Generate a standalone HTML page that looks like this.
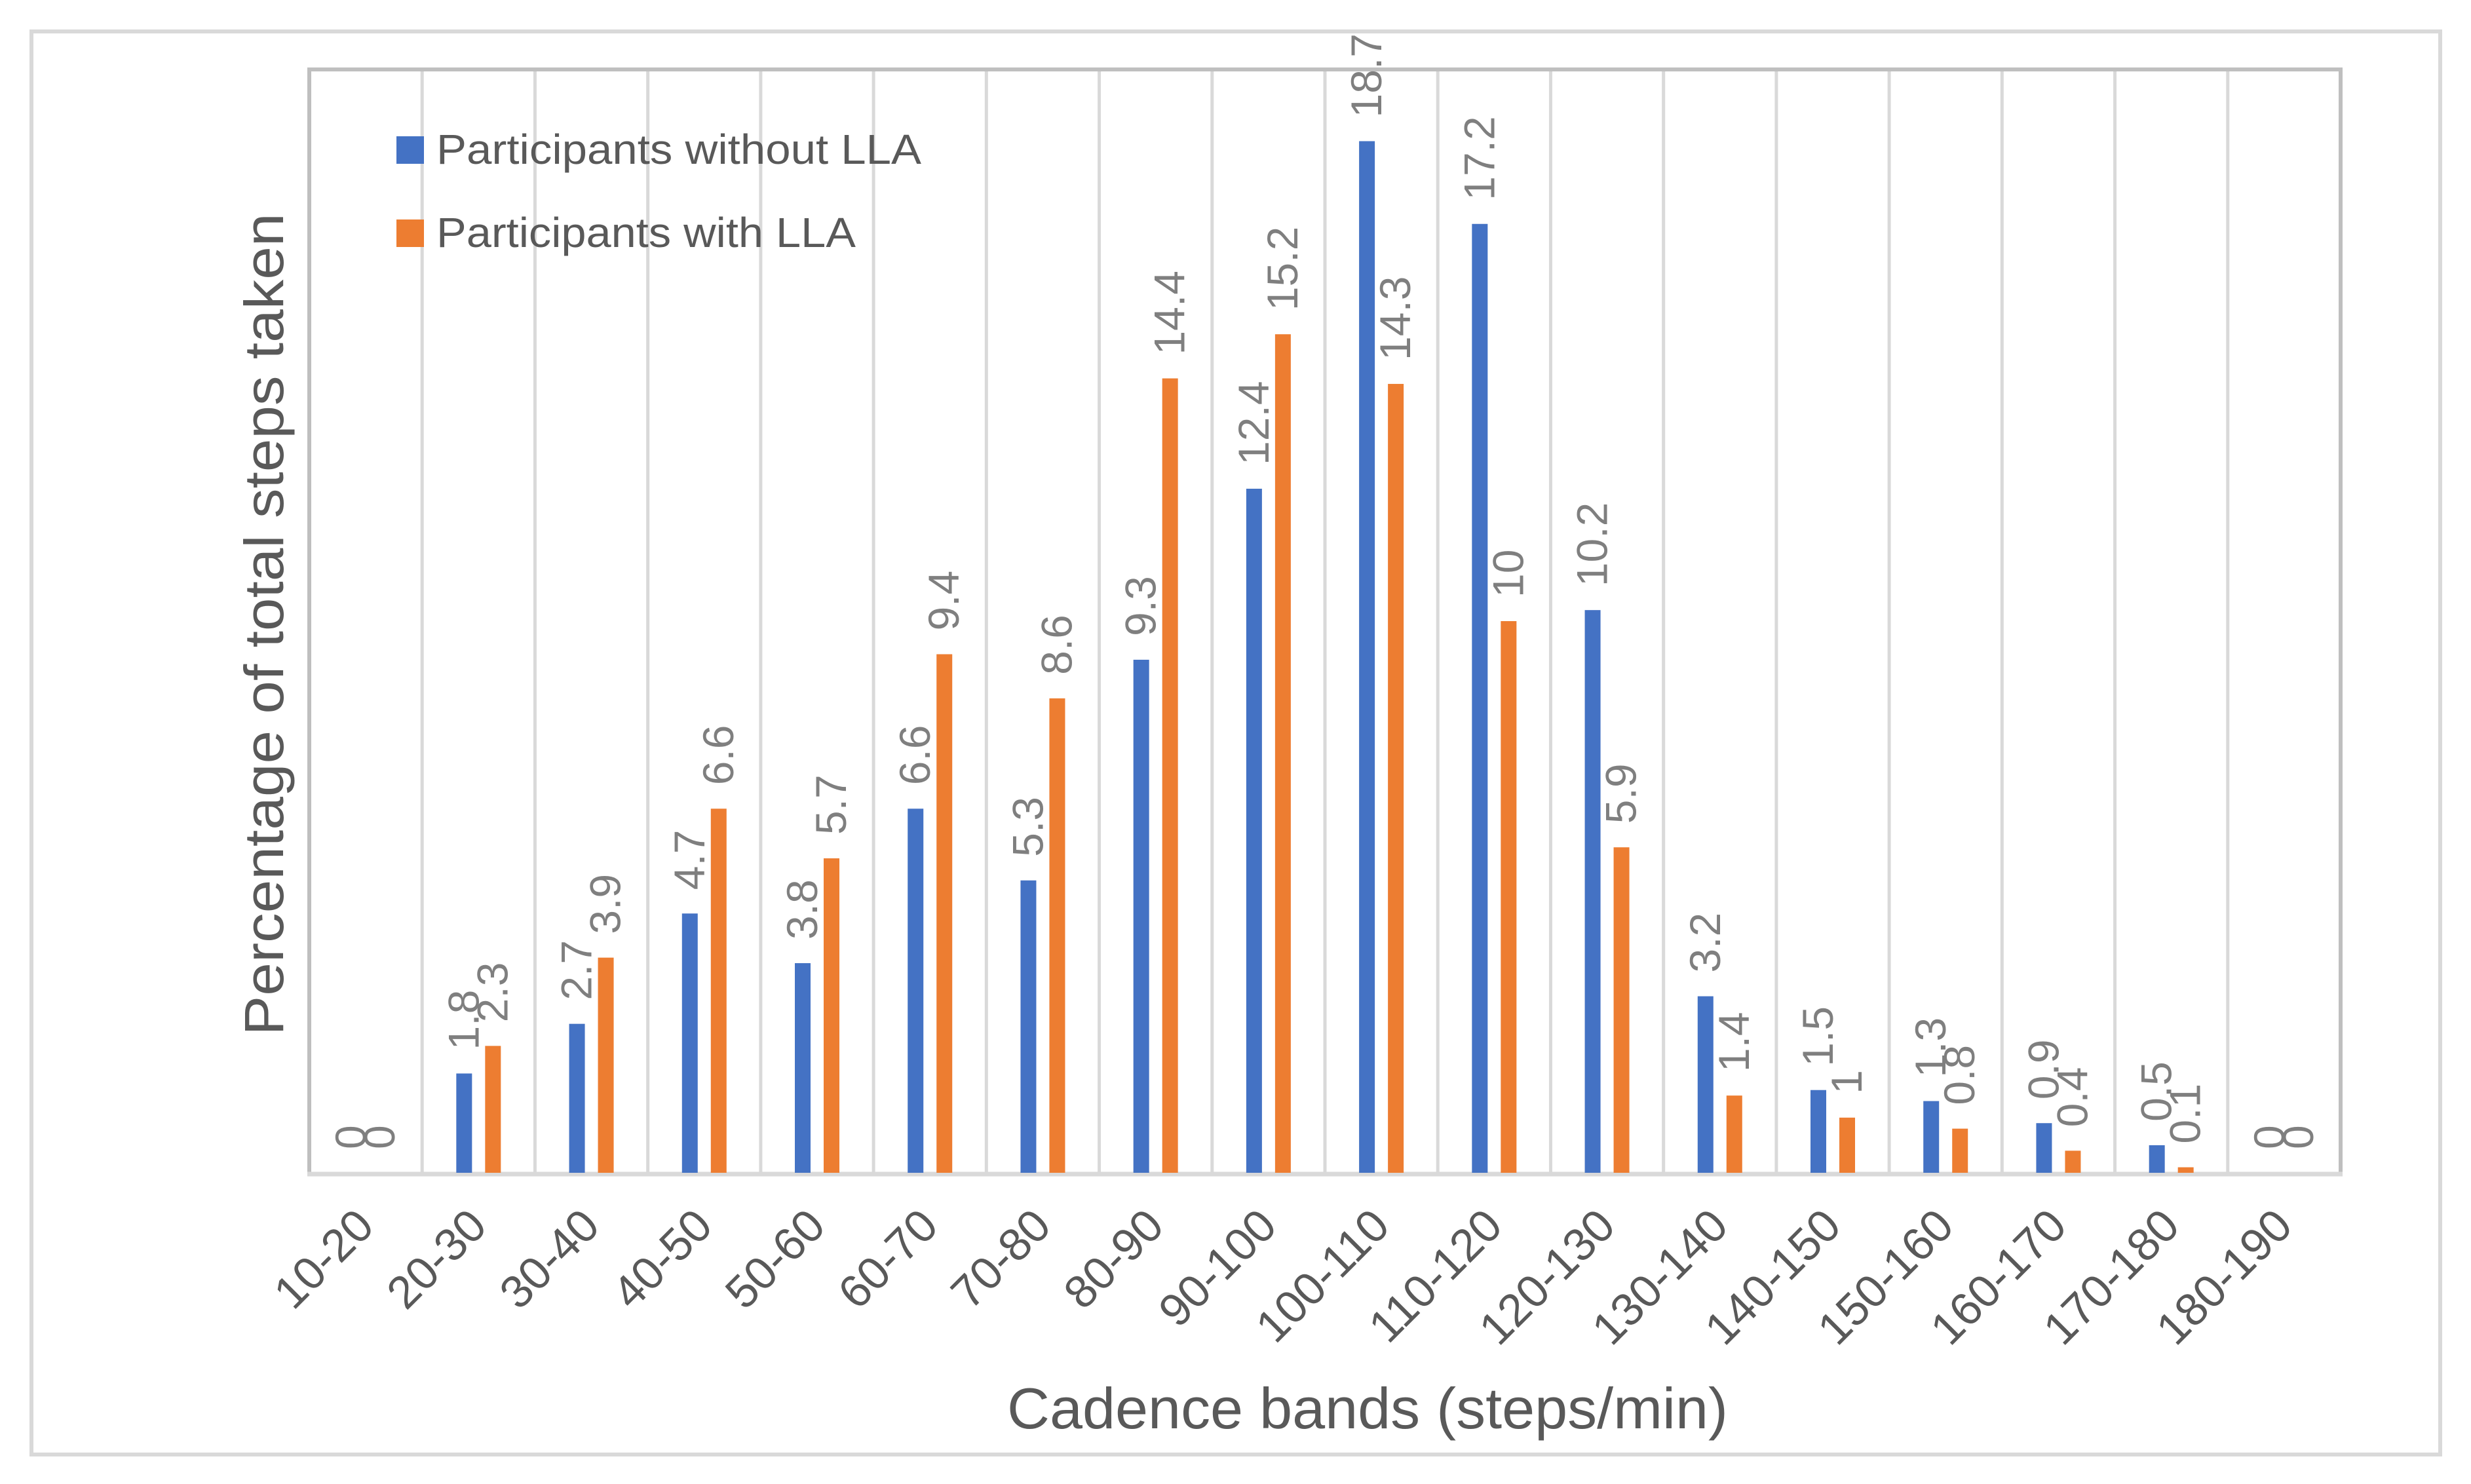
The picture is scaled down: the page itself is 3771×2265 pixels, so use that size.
<!DOCTYPE html>
<html><head><meta charset="utf-8"><style>
html,body{margin:0;padding:0;background:#fff;}
svg{display:block;}
text{font-family:"Liberation Sans",sans-serif;}
</style></head><body>
<svg id="chart" width="3771" height="2265" viewBox="0 0 3771 2265" xmlns="http://www.w3.org/2000/svg">
<rect x="0" y="0" width="3771" height="2265" fill="#fff"/>
<rect x="48" y="48" width="3676" height="2172" fill="none" stroke="#d9d9d9" stroke-width="6"/>
<g id="grid"></g>
<g id="bars"></g>
<g id="labels"></g>
<g id="ticks"></g>
<g>
<rect x="605" y="208" width="42" height="42" fill="#4472c4"/>
<text x="666" y="250" font-size="64" fill="#595959" textLength="740" lengthAdjust="spacingAndGlyphs">Participants without LLA</text>
<rect x="605" y="335" width="42" height="42" fill="#ed7d31"/>
<text x="666" y="377" font-size="64" fill="#595959" textLength="640" lengthAdjust="spacingAndGlyphs">Participants with LLA</text>
</g>
<text x="2087" y="2180" font-size="88" fill="#595959" text-anchor="middle" textLength="1100" lengthAdjust="spacingAndGlyphs">Cadence bands (steps/min)</text>
<text transform="translate(432,953) rotate(-90)" font-size="84" fill="#595959" text-anchor="middle" font-family="DejaVu Sans, sans-serif" textLength="1255" lengthAdjust="spacingAndGlyphs">Percentage of total steps taken</text>
</svg>
<script>
const categories = ["10-20","20-30","30-40","40-50","50-60","60-70","70-80","80-90","90-100","100-110","110-120","120-130","130-140","140-150","150-160","160-170","170-180","180-190"];
const withoutLLA = [0,1.8,2.7,4.7,3.8,6.6,5.3,9.3,12.4,18.7,17.2,10.2,3.2,1.5,1.3,0.9,0.5,0];
const withLLA = [0,2.3,3.9,6.6,5.7,9.4,8.6,14.4,15.2,14.3,10,5.9,1.4,1,0.8,0.4,0.1,0];
const yMax = 20;

const NS = "http://www.w3.org/2000/svg";
const plotL = 472, plotR = 3572, plotT = 106, plotB = 1790;
const bandW = (plotR - plotL) / categories.length;
function xCenter(i){ return plotL + bandW * (i + 0.5); }
function yPos(v){ return plotB - (v / yMax) * (plotB - plotT); }
function mk(tag, attrs, parent){
  const el = document.createElementNS(NS, tag);
  for (const k in attrs) el.setAttribute(k, attrs[k]);
  parent.appendChild(el);
  return el;
}
const grid = document.getElementById('grid');
const bars = document.getElementById('bars');
const labels = document.getElementById('labels');
const ticks = document.getElementById('ticks');

for (let i = 1; i < categories.length; i++) {
  const x = plotL + bandW * i;
  const g = mk('line', {x1:x, y1:plotT, x2:x, y2:plotB, stroke:'#d9d9d9', 'stroke-width':5}, grid);
  
  
}
const frame = mk('path', {d:`M${plotL},${plotB} L${plotL},${plotT} L${plotR},${plotT} L${plotR},${plotB}`, fill:'none', stroke:'#bfbfbf', 'stroke-width':6}, grid);


const axis = mk('line', {x1:plotL-3, y1:plotB+2, x2:plotR+3, y2:plotB+2, stroke:'#d9d9d9', 'stroke-width':7}, grid);



const barW = 24;
function drawSeries(vals, offset, color, name){
  vals.forEach((v, i) => {
    const cx = xCenter(i) + offset;
    const y = yPos(v);
    const r = mk('rect', {x:cx - barW/2, y:y, width:barW, height:plotB - y, fill:color}, bars);
    
    
    const t = mk('text', {transform:`translate(${cx + 22},${y - 36}) rotate(-90)`, 'font-size':66, fill:'#7f7f7f'}, labels);
    t.textContent = String(v);
    
    
  });
}
drawSeries(withoutLLA, -22, '#4472c4', 'without-lla');
drawSeries(withLLA, 22, '#ed7d31', 'with-lla');

categories.forEach((c, i) => {
  const t = mk('text', {transform:`translate(${xCenter(i) + 16},${plotB + 85}) rotate(-45)`, 'font-size':70, fill:'#595959', 'text-anchor':'end'}, ticks);
  t.textContent = c;
  
  
});
</script>
</body></html>
